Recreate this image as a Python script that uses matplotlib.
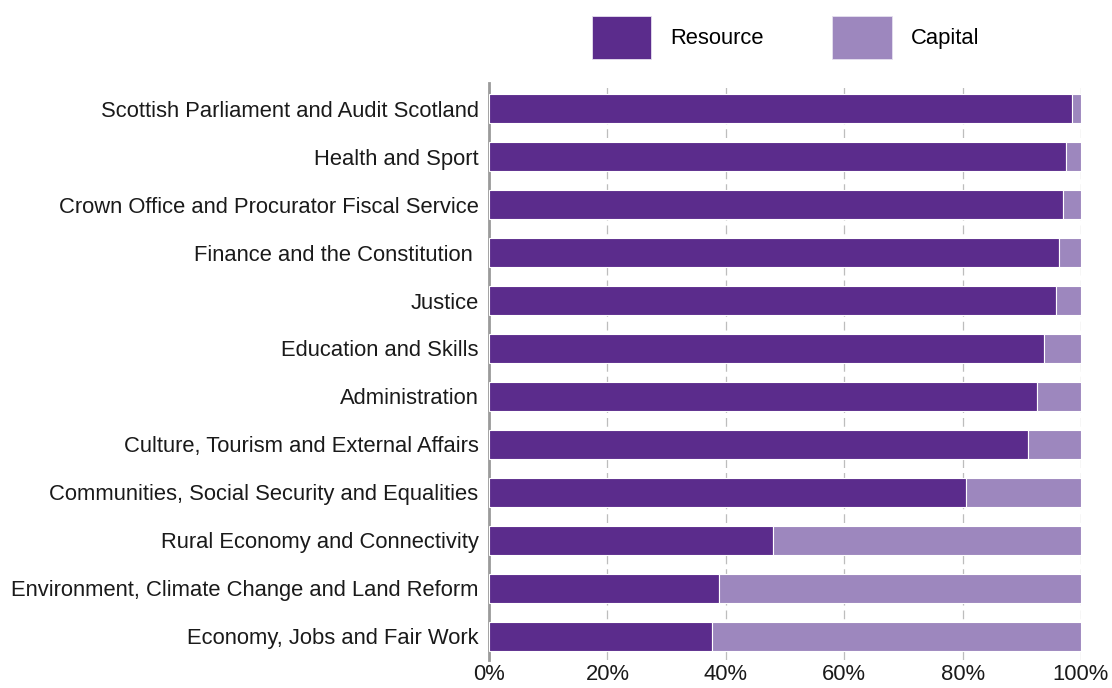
import matplotlib
matplotlib.use("Agg")
import matplotlib.pyplot as plt
from matplotlib.patches import Patch
from matplotlib.ticker import PercentFormatter

plt.rcParams['font.family'] = ['Liberation Sans', 'DejaVu Sans']

categories = [
    "Scottish Parliament and Audit Scotland",
    "Health and Sport",
    "Crown Office and Procurator Fiscal Service",
    "Finance and the Constitution ",
    "Justice",
    "Education and Skills",
    "Administration",
    "Culture, Tourism and External Affairs",
    "Communities, Social Security and Equalities",
    "Rural Economy and Connectivity",
    "Environment, Climate Change and Land Reform",
    "Economy, Jobs and Fair Work",
]
resource = [98.4, 97.4, 96.9, 96.3, 95.7, 93.8, 92.6, 91.1, 80.5, 47.9, 38.9, 37.7]
capital = [100 - r for r in resource]

series_names = ["Resource", "Capital"]
colors = ["#5B2C8C", "#9D87BE"]
xticks = [0, 20, 40, 60, 80, 100]

fs = 15.8

fig = plt.figure(figsize=(11.12, 6.88), dpi=100)
ax = fig.add_axes([489 / 1112, 28 / 688, 592 / 1112, 577 / 688])

pos = list(range(len(categories)))
ax.barh(pos, resource, height=0.605, color=colors[0], edgecolor="white",
        linewidth=0.8, zorder=3)
ax.barh(pos, capital, left=resource, height=0.605, color=colors[1],
        edgecolor="white", linewidth=0.8, zorder=3)

ax.set_xlim(0, 100)
ax.set_ylim(11.5, -0.54)
ax.set_yticks(pos)
ax.set_yticklabels(categories, fontsize=fs, color="#1a1a1a")
ax.set_xticks(xticks)
ax.xaxis.set_major_formatter(PercentFormatter(decimals=0))
ax.tick_params(axis="x", length=0, labelsize=fs, labelcolor="#1a1a1a", pad=3)
ax.tick_params(axis="y", length=0, pad=7.5)

ax.grid(axis="x", color="#bdbdbd", linestyle=(0, (7, 4)), linewidth=0.9, zorder=0)
for side in ["top", "right", "bottom"]:
    ax.spines[side].set_visible(False)
ax.spines["left"].set_color("#9a9a9a")
ax.spines["left"].set_linewidth(2)

handles = [Patch(facecolor=c, edgecolor="#e6e0ef", linewidth=0.6) for c in colors]
fig.legend(handles, series_names, loc="upper left",
           bbox_to_anchor=(572 / 1112, 1 + 4 / 688), ncol=2, frameon=False,
           fontsize=fs, handlelength=2.7, handleheight=2.65,
           handletextpad=0.9, columnspacing=3.1)

fig.savefig("out.png", dpi=100, facecolor="white")
